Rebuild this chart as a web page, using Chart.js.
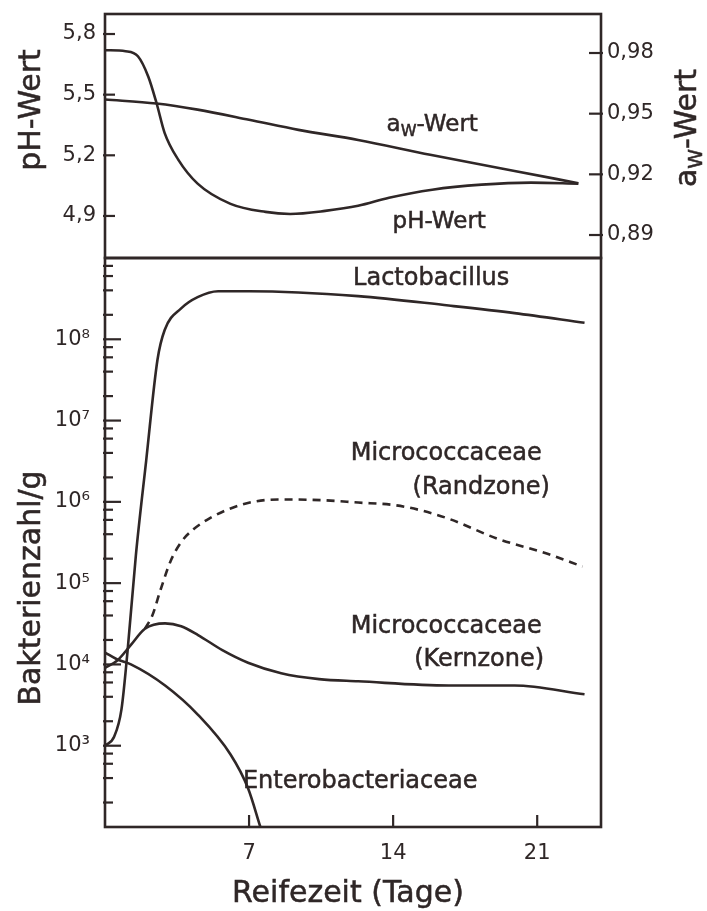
<!DOCTYPE html>
<html>
<head>
<meta charset="utf-8">
<title>Rohwurstreifung</title>
<script src="https://cdn.jsdelivr.net/npm/chart.js@4.4.0/dist/chart.umd.min.js"></script>
<style>
  body { margin: 0; background: #fff; }
  #wrap { position: relative; width: 707px; height: 911px; }
  canvas { position: absolute; left: 0; }
  #oben { top: 0; }
  #unten { top: 250px; }
</style>
</head>
<body>
<div id="wrap">
  <canvas id="unten" width="707" height="661"></canvas>
  <canvas id="oben" width="707" height="270"></canvas>
</div>
<script>
// Werte (Reifezeit in Tagen)
const phDays   = [0, 1.0, 1.6, 2.1, 2.5, 2.9, 3.55, 4.5, 6.1, 7.8, 9.0, 10.7, 12.3, 13.8, 15.9, 18.3, 20.7, 23.0];
const phValues = [5.72, 5.715, 5.69, 5.59, 5.46, 5.31, 5.18, 5.06, 4.96, 4.92, 4.91, 4.925, 4.95, 4.99, 5.03, 5.055, 5.065, 5.06];

const awDays   = [0, 2.5, 4.5, 7.0, 9.4, 12.3, 15.8, 19.9, 23.0];
const awValues = [0.957, 0.955, 0.952, 0.947, 0.942, 0.937, 0.9297, 0.9217, 0.9156];

const lactoDays   = [0, 0.45, 0.8, 1.1, 1.5, 2.0, 2.55, 2.9, 3.7, 4.5, 5.5, 7.0, 12.3, 16.7, 19.9, 23.3];
const lactoCounts = [1.0e3, 1.3e3, 2.8e3, 1.5e4, 2.2e5, 3.2e6, 5.6e7, 1.3e8, 2.4e8, 3.3e8, 3.9e8, 3.9e8, 3.4e8, 2.6e8, 2.1e8, 1.6e8];

const randDays   = [1.94, 2.3, 2.7, 3.2, 3.7, 4.3, 5.1, 6.1, 7.2, 8.4, 10.5, 12.3, 14.1, 15.4, 16.7, 19.1, 21.5, 23.2];
const randCounts = [2.75e4, 4.0e4, 8.3e4, 1.9e5, 3.2e5, 4.6e5, 6.3e5, 8.3e5, 1.0e6, 1.07e6, 1.05e6, 9.8e5, 9.1e5, 7.8e5, 6.2e5, 3.5e5, 2.3e5, 1.6e5];

const kernDays   = [0, 0.6, 1.26, 1.94, 2.92, 3.7, 4.52, 5.7, 6.95, 8.56, 10.4, 12.3, 16.7, 19.9, 23.3];
const kernCounts = [9.1e3, 1.12e4, 1.74e4, 2.75e4, 3.2e4, 2.95e4, 2.3e4, 1.5e4, 1.05e4, 7.8e3, 6.6e3, 6.2e3, 5.5e3, 5.5e3, 4.3e3];

const enteroDays   = [0, 0.6, 1.26, 2.92, 4.52, 6.1, 6.95, 7.55];
const enteroCounts = [1.4e4, 1.15e4, 1.0e4, 5.5e3, 2.4e3, 7.8e2, 3.0e2, 1.0e2];

// Achsenbeschriftung
const phTicks = [4.9, 5.2, 5.5, 5.8];
const awTicks = [0.89, 0.92, 0.95, 0.98];
const dayTicks = [7, 14, 21];
const decades = [2, 3, 4, 5, 6, 7, 8];
const minorSteps = [2, 4, 6, 8];
const superscripts = { 3: '\u00B3', 4: '\u2074', 5: '\u2075', 6: '\u2076', 7: '\u2077', 8: '\u2078' };

const ink = '#2f2727';
const family = "'DejaVu Sans', 'Liberation Sans', sans-serif";

function points(xs, ys) {
    return xs.map((x, i) => ({ x: x, y: ys[i] }));
}

function line(data, axis, dash) {
    return {
        data: data,
        yAxisID: axis,
        borderColor: ink,
        borderWidth: 2.6,
        borderDash: dash || [],
        pointRadius: 0,
        fill: false,
        cubicInterpolationMode: 'monotone'
    };
}

// Achse ohne automatische Randabstaende, feste Breite/Hoehe
function fixed(size) {
    return s => {
        if (s.isHorizontal()) s.height = size; else s.width = size;
        s.paddingTop = 0;
        s.paddingBottom = 0;
        s.paddingLeft = 0;
        s.paddingRight = 0;
    };
}

// Text mit Tiefstellung (a_w)
function rich(ctx, parts, x, y, size) {
    let total = 0;
    const widths = parts.map(p => {
        ctx.font = (p.sub ? Math.round(size * 0.68) : size) + 'px ' + family;
        const w = ctx.measureText(p.t).width;
        total += w;
        return w;
    });
    let cx = x - total / 2;
    parts.forEach((p, i) => {
        ctx.font = (p.sub ? Math.round(size * 0.68) : size) + 'px ' + family;
        ctx.fillText(p.t, cx, y + (p.sub ? size * 0.3 : 0));
        ctx.strokeText(p.t, cx, y + (p.sub ? size * 0.3 : 0));
        cx += widths[i];
    });
}

// Rahmen, nach innen zeigende Striche, Beschriftungen
const sketch = {
    id: 'sketch',
    afterDraw(chart, args, opts) {
        const ctx = chart.ctx;
        const a = chart.chartArea;
        ctx.save();
        ctx.strokeStyle = ink;
        ctx.fillStyle = ink;
        ctx.lineWidth = 2.6;
        ctx.strokeRect(a.left, a.top, a.right - a.left, a.bottom - a.top);

        ctx.lineWidth = 2.2;
        (opts.ticks || []).forEach(spec => {
            const s = chart.scales[spec.id];
            s.ticks.forEach(t => {
                const len = spec.len(t.value);
                const p = s.getPixelForValue(t.value);
                ctx.beginPath();
                if (s.isHorizontal()) {
                    ctx.moveTo(p, a.bottom);
                    ctx.lineTo(p, a.bottom - len);
                } else if (s.position === 'left') {
                    ctx.moveTo(a.left - 2, p);
                    ctx.lineTo(a.left + len, p);
                } else {
                    ctx.moveTo(a.right + 2, p);
                    ctx.lineTo(a.right - len, p);
                }
                ctx.stroke();
            });
        });

        ctx.textBaseline = 'middle';
        ctx.textAlign = 'left';
        ctx.lineWidth = 0.5;
        (opts.notes || []).forEach(n => {
            const x = chart.scales.x.getPixelForValue(n.day);
            const y = chart.scales[n.axis].getPixelForValue(n.value);
            rich(ctx, n.parts, x, y, n.size);
        });
        (opts.titles || []).forEach(tt => {
            ctx.save();
            ctx.translate(tt.x, tt.y);
            if (tt.rotate) ctx.rotate(-Math.PI / 2);
            rich(ctx, tt.parts, 0, 0, tt.size);
            ctx.restore();
        });
        ctx.restore();
    }
};

const hidden = { display: false, drawTicks: false };
const tickFont = { family: family, size: 21 };

// Oberes Diagramm: pH-Wert und aw-Wert
new Chart(document.getElementById('oben'), {
    type: 'line',
    data: {
        datasets: [
            line(points(phDays, phValues), 'ph'),
            line(points(awDays, awValues), 'aw')
        ]
    },
    options: {
        responsive: false,
        animation: false,
        layout: { padding: { top: 14, bottom: 12, left: 0, right: 0 } },
        plugins: {
            legend: { display: false },
            tooltip: { enabled: false },
            sketch: {
                ticks: [
                    { id: 'ph', len: () => 10 },
                    { id: 'aw', len: () => 12 }
                ],
                notes: [
                    { parts: [{ t: 'a' }, { t: 'W', sub: true }, { t: '-Wert' }], day: 15.9, axis: 'aw', value: 0.9444, size: 23 },
                    { parts: [{ t: 'pH-Wert' }], day: 16.24, axis: 'ph', value: 4.871, size: 23 }
                ],
                titles: [
                    { parts: [{ t: 'pH-Wert' }], x: 32, y: 110, size: 30, rotate: true },
                    { parts: [{ t: 'a' }, { t: 'W', sub: true }, { t: '-Wert' }], x: 688, y: 128, size: 30, rotate: true }
                ]
            }
        },
        scales: {
            x: { type: 'linear', min: 0, max: 24.1, display: false },
            ph: {
                type: 'linear', position: 'left', min: 4.692, max: 5.899,
                afterFit: fixed(105),
                afterBuildTicks: s => { s.ticks = phTicks.map(v => ({ value: v })); },
                grid: hidden, border: { display: false },
                ticks: { color: ink, padding: 9, font: tickFont,
                         callback: v => v.toFixed(1).replace('.', ',') }
            },
            aw: {
                type: 'linear', position: 'right', min: 0.87863, max: 0.99929,
                afterFit: fixed(106),
                afterBuildTicks: s => { s.ticks = awTicks.map(v => ({ value: v })); },
                grid: hidden, border: { display: false },
                ticks: { color: ink, padding: 6, font: tickFont,
                         callback: v => v.toFixed(2).replace('.', ',') }
            }
        }
    },
    plugins: [sketch]
});

// Unteres Diagramm: Bakterienzahlen (logarithmisch)
function countTicks() {
    const list = [];
    decades.forEach(e => {
        if (e >= 3) list.push({ value: Math.pow(10, e), major: true });
        minorSteps.forEach(m => list.push({ value: m * Math.pow(10, e) }));
    });
    return list;
}

function isDecade(v) {
    const e = Math.log10(v);
    return Math.abs(e - Math.round(e)) < 1e-6;
}

new Chart(document.getElementById('unten'), {
    type: 'line',
    data: {
        datasets: [
            line(points(lactoDays, lactoCounts), 'y'),
            line(points(randDays, randCounts), 'y', [8, 6]),
            line(points(kernDays, kernCounts), 'y'),
            line(points(enteroDays, enteroCounts), 'y')
        ]
    },
    options: {
        responsive: false,
        animation: false,
        layout: { padding: { top: 8, bottom: 0, left: 0, right: 106 } },
        plugins: {
            legend: { display: false },
            tooltip: { enabled: false },
            sketch: {
                ticks: [
                    { id: 'y', len: v => isDecade(v) ? 16 : 8 },
                    { id: 'x', len: () => 12 }
                ],
                notes: [
                    { parts: [{ t: 'Lactobacillus' }], day: 15.85, axis: 'y', value: 5.5e8, size: 24 },
                    { parts: [{ t: 'Micrococcaceae' }], day: 16.58, axis: 'y', value: 3.87e6, size: 24 },
                    { parts: [{ t: '(Randzone)' }], day: 18.28, axis: 'y', value: 1.48e6, size: 24 },
                    { parts: [{ t: 'Micrococcaceae' }], day: 16.58, axis: 'y', value: 2.9e4, size: 24 },
                    { parts: [{ t: '(Kernzone)' }], day: 18.18, axis: 'y', value: 1.14e4, size: 24 },
                    { parts: [{ t: 'Enterobacteriaceae' }], day: 12.4, axis: 'y', value: 3.6e2, size: 24 }
                ],
                titles: [
                    { parts: [{ t: 'Bakterienzahl/g' }], x: 32, y: 338, size: 30, rotate: true },
                    { parts: [{ t: 'Reifezeit (Tage)' }], x: 348, y: 644, size: 30 }
                ]
            }
        },
        scales: {
            x: {
                type: 'linear', position: 'bottom', min: 0, max: 24.1,
                afterFit: fixed(84),
                afterBuildTicks: s => { s.ticks = dayTicks.map(v => ({ value: v })); },
                grid: hidden, border: { display: false },
                ticks: { color: ink, padding: 14, font: tickFont }
            },
            y: {
                type: 'logarithmic', position: 'left', min: 100, max: 1e9,
                afterFit: fixed(105),
                afterBuildTicks: s => { s.ticks = countTicks(); },
                grid: hidden, border: { display: false },
                ticks: { color: ink, padding: 15, autoSkip: false, font: tickFont,
                         callback: v => isDecade(v) ? '10' + superscripts[Math.round(Math.log10(v))] : '' }
            }
        }
    },
    plugins: [sketch]
});
</script>
</body>
</html>
